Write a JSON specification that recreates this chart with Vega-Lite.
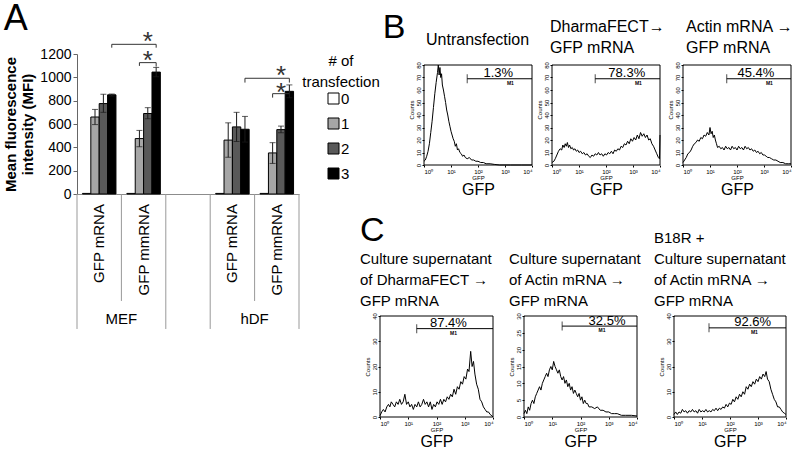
{
  "$schema": "https://vega.github.io/schema/vega-lite/v6.json",
  "padding": {"left": 3, "top": 1, "right": 0, "bottom": 0},
  "config": {
    "view": {"stroke": null},
    "font": "Liberation Sans",
    "axis": {"labelFont": "Liberation Sans", "titleFont": "Liberation Sans", "grid": false, "labelColor": "black", "titleColor": "black", "tickColor": "black", "domainColor": "black", "titleFontWeight": "normal", "labelOverlap": false},
    "title": {"font": "Liberation Sans", "fontWeight": "normal", "color": "black", "subtitleFont": "Liberation Sans", "subtitleColor": "black"},
    "legend": {"labelFont": "Liberation Sans", "titleFont": "Liberation Sans"},
    "text": {"font": "Liberation Sans", "color": "black"}
  },
  "datasets": {
    "mfi": [
      {"cond": "MEF GFP mRNA", "n": "0", "mfi": 5, "lo": null, "hi": null},
      {"cond": "MEF GFP mRNA", "n": "1", "mfi": 660, "lo": 595, "hi": 725},
      {"cond": "MEF GFP mRNA", "n": "2", "mfi": 775, "lo": 700, "hi": 855},
      {"cond": "MEF GFP mRNA", "n": "3", "mfi": 850, "lo": 840, "hi": 857},
      {"cond": "MEF GFP mmRNA", "n": "0", "mfi": 5, "lo": null, "hi": null},
      {"cond": "MEF GFP mmRNA", "n": "1", "mfi": 475, "lo": 405, "hi": 545},
      {"cond": "MEF GFP mmRNA", "n": "2", "mfi": 690, "lo": 645, "hi": 740},
      {"cond": "MEF GFP mmRNA", "n": "3", "mfi": 1045, "lo": 1005, "hi": 1085},
      {"cond": "hDF GFP mRNA", "n": "0", "mfi": 5, "lo": null, "hi": null},
      {"cond": "hDF GFP mRNA", "n": "1", "mfi": 462, "lo": 315, "hi": 610},
      {"cond": "hDF GFP mRNA", "n": "2", "mfi": 575, "lo": 450, "hi": 700},
      {"cond": "hDF GFP mRNA", "n": "3", "mfi": 555, "lo": 445, "hi": 665},
      {"cond": "hDF GFP mmRNA", "n": "0", "mfi": 5, "lo": null, "hi": null},
      {"cond": "hDF GFP mmRNA", "n": "1", "mfi": 352, "lo": 262, "hi": 440},
      {"cond": "hDF GFP mmRNA", "n": "2", "mfi": 552, "lo": 525, "hi": 582},
      {"cond": "hDF GFP mmRNA", "n": "3", "mfi": 880, "lo": 825, "hi": 935}
    ],
    "brackets": [
      {"br": "mef_outer", "step": 1, "cond": "MEF GFP mRNA", "n": "3", "v": 1254},
      {"br": "mef_outer", "step": 2, "cond": "MEF GFP mRNA", "n": "3", "v": 1283},
      {"br": "mef_outer", "step": 3, "cond": "MEF GFP mmRNA", "n": "3", "v": 1283},
      {"br": "mef_outer", "step": 4, "cond": "MEF GFP mmRNA", "n": "3", "v": 1254},
      {"br": "mef_inner", "step": 1, "cond": "MEF GFP mmRNA", "n": "1", "v": 1098},
      {"br": "mef_inner", "step": 2, "cond": "MEF GFP mmRNA", "n": "1", "v": 1126},
      {"br": "mef_inner", "step": 3, "cond": "MEF GFP mmRNA", "n": "3", "v": 1126},
      {"br": "mef_inner", "step": 4, "cond": "MEF GFP mmRNA", "n": "3", "v": 1092},
      {"br": "hdf_outer", "step": 1, "cond": "hDF GFP mRNA", "n": "3", "v": 955},
      {"br": "hdf_outer", "step": 2, "cond": "hDF GFP mRNA", "n": "3", "v": 992},
      {"br": "hdf_outer", "step": 3, "cond": "hDF GFP mmRNA", "n": "3", "v": 992},
      {"br": "hdf_outer", "step": 4, "cond": "hDF GFP mmRNA", "n": "3", "v": 955},
      {"br": "hdf_inner", "step": 1, "cond": "hDF GFP mmRNA", "n": "1", "v": 826},
      {"br": "hdf_inner", "step": 2, "cond": "hDF GFP mmRNA", "n": "1", "v": 860},
      {"br": "hdf_inner", "step": 3, "cond": "hDF GFP mmRNA", "n": "3", "v": 860}
    ],
    "stars": [
      {"cond": "MEF GFP mmRNA", "n": "2", "v": 1362},
      {"cond": "MEF GFP mmRNA", "n": "2", "v": 1197},
      {"cond": "hDF GFP mmRNA", "n": "2", "v": 1069},
      {"cond": "hDF GFP mmRNA", "n": "2", "v": 926}
    ],
    "legend": [{"n": "0"}, {"n": "1"}, {"n": "2"}, {"n": "3"}],
    "seps": [
      {"cond": "MEF GFP mRNA", "kind": "outer"},
      {"cond": "MEF GFP mmRNA", "kind": "inner"},
      {"cond": "gap", "kind": "outer"},
      {"cond": "hDF GFP mRNA", "kind": "outer"},
      {"cond": "hDF GFP mmRNA", "kind": "inner"}
    ],
    "xlabels": [
      {"cond": "MEF GFP mRNA", "label": "GFP mRNA"},
      {"cond": "MEF GFP mmRNA", "label": "GFP mmRNA"},
      {"cond": "hDF GFP mRNA", "label": "GFP mRNA"},
      {"cond": "hDF GFP mmRNA", "label": "GFP mmRNA"}
    ],
    "groups": [
      {"cond": "MEF GFP mmRNA", "group": "MEF"},
      {"cond": "hDF GFP mmRNA", "group": "hDF"}
    ],
    "gates": [
      {"panel": "b1", "start": 1.6, "level": 69, "pct": "1.3%", "px": 2.75, "mx": 3.2},
      {"panel": "b2", "start": 1.6, "level": 69, "pct": "78.3%", "px": 2.77, "mx": 3.2},
      {"panel": "b3", "start": 1.62, "level": 69, "pct": "45.4%", "px": 2.7, "mx": 3.2},
      {"panel": "c1", "start": 1.3, "level": 35, "pct": "87.4%", "px": 2.42, "mx": 2.6},
      {"panel": "c2", "start": 1.35, "level": 27, "pct": "32.5%", "px": 2.94, "mx": 2.76},
      {"panel": "c3", "start": 1.25, "level": 35.3, "pct": "92.6%", "px": 2.81, "mx": 2.87}
    ],
    "b1": [
      {"g": 0.00, "c": 3}, {"g": 0.05, "c": 4}, {"g": 0.10, "c": 7}, {"g": 0.15, "c": 11}, {"g": 0.20, "c": 17},
      {"g": 0.25, "c": 26}, {"g": 0.30, "c": 35}, {"g": 0.35, "c": 46}, {"g": 0.40, "c": 57}, {"g": 0.45, "c": 66},
      {"g": 0.50, "c": 74}, {"g": 0.53, "c": 80}, {"g": 0.56, "c": 72}, {"g": 0.59, "c": 78}, {"g": 0.62, "c": 70},
      {"g": 0.65, "c": 73}, {"g": 0.68, "c": 64}, {"g": 0.72, "c": 60}, {"g": 0.76, "c": 55}, {"g": 0.80, "c": 50},
      {"g": 0.84, "c": 44}, {"g": 0.88, "c": 40}, {"g": 0.92, "c": 35}, {"g": 0.96, "c": 31}, {"g": 1.00, "c": 27},
      {"g": 1.04, "c": 24}, {"g": 1.08, "c": 21}, {"g": 1.12, "c": 19}, {"g": 1.16, "c": 15}, {"g": 1.20, "c": 17},
      {"g": 1.24, "c": 12}, {"g": 1.28, "c": 13}, {"g": 1.33, "c": 10}, {"g": 1.38, "c": 9}, {"g": 1.43, "c": 7},
      {"g": 1.48, "c": 8}, {"g": 1.53, "c": 6}, {"g": 1.60, "c": 5}, {"g": 1.68, "c": 6}, {"g": 1.76, "c": 4},
      {"g": 1.84, "c": 4}, {"g": 1.92, "c": 3}, {"g": 2.00, "c": 3}, {"g": 2.10, "c": 2}, {"g": 2.20, "c": 2},
      {"g": 2.30, "c": 1}, {"g": 2.45, "c": 1}, {"g": 2.60, "c": 0.5}, {"g": 2.80, "c": 0}, {"g": 3.20, "c": 0},
      {"g": 3.60, "c": 0}, {"g": 4.00, "c": 0}
    ],
    "b2": [
      {"g": 0.00, "c": 2}, {"g": 0.07, "c": 3}, {"g": 0.12, "c": 5}, {"g": 0.18, "c": 8}, {"g": 0.24, "c": 11},
      {"g": 0.30, "c": 13}, {"g": 0.36, "c": 12}, {"g": 0.40, "c": 16}, {"g": 0.45, "c": 14}, {"g": 0.49, "c": 17},
      {"g": 0.53, "c": 15}, {"g": 0.57, "c": 18}, {"g": 0.61, "c": 14}, {"g": 0.65, "c": 16}, {"g": 0.70, "c": 13},
      {"g": 0.75, "c": 14}, {"g": 0.80, "c": 12}, {"g": 0.85, "c": 13}, {"g": 0.90, "c": 11}, {"g": 0.95, "c": 12},
      {"g": 1.00, "c": 10}, {"g": 1.06, "c": 11}, {"g": 1.12, "c": 9}, {"g": 1.18, "c": 10}, {"g": 1.24, "c": 8},
      {"g": 1.30, "c": 9}, {"g": 1.36, "c": 7}, {"g": 1.42, "c": 6}, {"g": 1.48, "c": 8}, {"g": 1.54, "c": 7},
      {"g": 1.60, "c": 9}, {"g": 1.66, "c": 8}, {"g": 1.72, "c": 10}, {"g": 1.78, "c": 8}, {"g": 1.84, "c": 9},
      {"g": 1.90, "c": 7}, {"g": 1.96, "c": 9}, {"g": 2.02, "c": 8}, {"g": 2.08, "c": 10}, {"g": 2.14, "c": 9},
      {"g": 2.20, "c": 11}, {"g": 2.26, "c": 9}, {"g": 2.32, "c": 12}, {"g": 2.38, "c": 11}, {"g": 2.44, "c": 13},
      {"g": 2.50, "c": 12}, {"g": 2.56, "c": 15}, {"g": 2.62, "c": 14}, {"g": 2.68, "c": 17}, {"g": 2.74, "c": 16},
      {"g": 2.80, "c": 19}, {"g": 2.86, "c": 17}, {"g": 2.92, "c": 21}, {"g": 2.98, "c": 19}, {"g": 3.04, "c": 22},
      {"g": 3.10, "c": 20}, {"g": 3.16, "c": 24}, {"g": 3.22, "c": 21}, {"g": 3.28, "c": 26}, {"g": 3.34, "c": 23},
      {"g": 3.40, "c": 25}, {"g": 3.46, "c": 22}, {"g": 3.52, "c": 24}, {"g": 3.58, "c": 20}, {"g": 3.64, "c": 21},
      {"g": 3.70, "c": 17}, {"g": 3.76, "c": 15}, {"g": 3.82, "c": 12}, {"g": 3.88, "c": 9}, {"g": 3.94, "c": 6},
      {"g": 3.98, "c": 5}, {"g": 4.00, "c": 24}
    ],
    "b3": [
      {"g": 0.00, "c": 2}, {"g": 0.06, "c": 4}, {"g": 0.12, "c": 6}, {"g": 0.18, "c": 9}, {"g": 0.24, "c": 10},
      {"g": 0.30, "c": 12}, {"g": 0.36, "c": 15}, {"g": 0.42, "c": 17}, {"g": 0.48, "c": 18}, {"g": 0.54, "c": 20},
      {"g": 0.60, "c": 19}, {"g": 0.66, "c": 22}, {"g": 0.72, "c": 21}, {"g": 0.78, "c": 24}, {"g": 0.84, "c": 23},
      {"g": 0.90, "c": 26}, {"g": 0.96, "c": 24}, {"g": 1.00, "c": 30}, {"g": 1.04, "c": 25}, {"g": 1.08, "c": 27},
      {"g": 1.12, "c": 22}, {"g": 1.16, "c": 24}, {"g": 1.20, "c": 20}, {"g": 1.24, "c": 17}, {"g": 1.28, "c": 14},
      {"g": 1.34, "c": 15}, {"g": 1.40, "c": 13}, {"g": 1.46, "c": 14}, {"g": 1.52, "c": 12}, {"g": 1.58, "c": 15},
      {"g": 1.64, "c": 13}, {"g": 1.70, "c": 14}, {"g": 1.76, "c": 12}, {"g": 1.82, "c": 15}, {"g": 1.88, "c": 13},
      {"g": 1.94, "c": 14}, {"g": 2.00, "c": 12}, {"g": 2.06, "c": 15}, {"g": 2.12, "c": 13}, {"g": 2.18, "c": 14},
      {"g": 2.24, "c": 12}, {"g": 2.30, "c": 15}, {"g": 2.36, "c": 13}, {"g": 2.42, "c": 14}, {"g": 2.48, "c": 12},
      {"g": 2.54, "c": 13}, {"g": 2.60, "c": 11}, {"g": 2.66, "c": 12}, {"g": 2.72, "c": 10}, {"g": 2.78, "c": 11},
      {"g": 2.84, "c": 9}, {"g": 2.90, "c": 10}, {"g": 2.96, "c": 8}, {"g": 3.02, "c": 8}, {"g": 3.08, "c": 7},
      {"g": 3.14, "c": 6}, {"g": 3.20, "c": 6}, {"g": 3.28, "c": 5}, {"g": 3.36, "c": 4}, {"g": 3.44, "c": 4},
      {"g": 3.52, "c": 3}, {"g": 3.60, "c": 2}, {"g": 3.70, "c": 2}, {"g": 3.80, "c": 1}, {"g": 3.90, "c": 1},
      {"g": 4.00, "c": 1}
    ],
    "c1": [
      {"g": 0.00, "c": 0.5}, {"g": 0.06, "c": 2}, {"g": 0.12, "c": 3}, {"g": 0.18, "c": 2}, {"g": 0.24, "c": 4},
      {"g": 0.30, "c": 5}, {"g": 0.35, "c": 4}, {"g": 0.40, "c": 6}, {"g": 0.46, "c": 5}, {"g": 0.52, "c": 4},
      {"g": 0.58, "c": 6}, {"g": 0.64, "c": 5}, {"g": 0.70, "c": 7}, {"g": 0.76, "c": 5}, {"g": 0.82, "c": 6},
      {"g": 0.88, "c": 9}, {"g": 0.94, "c": 5}, {"g": 1.00, "c": 6}, {"g": 1.06, "c": 4}, {"g": 1.12, "c": 5},
      {"g": 1.18, "c": 3}, {"g": 1.24, "c": 5}, {"g": 1.30, "c": 4}, {"g": 1.36, "c": 6}, {"g": 1.42, "c": 4},
      {"g": 1.48, "c": 5}, {"g": 1.54, "c": 7}, {"g": 1.60, "c": 5}, {"g": 1.66, "c": 6}, {"g": 1.72, "c": 4},
      {"g": 1.78, "c": 6}, {"g": 1.84, "c": 3}, {"g": 1.90, "c": 5}, {"g": 1.96, "c": 4}, {"g": 2.02, "c": 6},
      {"g": 2.08, "c": 5}, {"g": 2.14, "c": 7}, {"g": 2.20, "c": 5}, {"g": 2.26, "c": 7}, {"g": 2.32, "c": 6},
      {"g": 2.38, "c": 8}, {"g": 2.44, "c": 7}, {"g": 2.50, "c": 9}, {"g": 2.56, "c": 8}, {"g": 2.62, "c": 11},
      {"g": 2.68, "c": 9}, {"g": 2.74, "c": 12}, {"g": 2.80, "c": 11}, {"g": 2.86, "c": 14}, {"g": 2.92, "c": 13},
      {"g": 2.98, "c": 16}, {"g": 3.04, "c": 15}, {"g": 3.10, "c": 19}, {"g": 3.15, "c": 18}, {"g": 3.21, "c": 26},
      {"g": 3.26, "c": 20}, {"g": 3.31, "c": 22}, {"g": 3.36, "c": 17}, {"g": 3.42, "c": 13}, {"g": 3.48, "c": 11},
      {"g": 3.54, "c": 7}, {"g": 3.60, "c": 6}, {"g": 3.66, "c": 4}, {"g": 3.72, "c": 3}, {"g": 3.78, "c": 2},
      {"g": 3.84, "c": 2}, {"g": 3.90, "c": 1}, {"g": 3.96, "c": 0.5}, {"g": 4.00, "c": 0}
    ],
    "c2": [
      {"g": 0.00, "c": 1}, {"g": 0.05, "c": 2}, {"g": 0.10, "c": 1}, {"g": 0.15, "c": 3}, {"g": 0.20, "c": 2},
      {"g": 0.25, "c": 4}, {"g": 0.30, "c": 5}, {"g": 0.35, "c": 4}, {"g": 0.40, "c": 6}, {"g": 0.45, "c": 7},
      {"g": 0.50, "c": 8}, {"g": 0.55, "c": 9}, {"g": 0.60, "c": 8}, {"g": 0.65, "c": 10}, {"g": 0.70, "c": 11},
      {"g": 0.75, "c": 12}, {"g": 0.80, "c": 13}, {"g": 0.85, "c": 12}, {"g": 0.90, "c": 14}, {"g": 0.95, "c": 15},
      {"g": 1.00, "c": 14}, {"g": 1.05, "c": 16.5}, {"g": 1.10, "c": 15}, {"g": 1.15, "c": 14}, {"g": 1.20, "c": 13},
      {"g": 1.25, "c": 14}, {"g": 1.30, "c": 12}, {"g": 1.35, "c": 11}, {"g": 1.40, "c": 12}, {"g": 1.45, "c": 10},
      {"g": 1.50, "c": 11}, {"g": 1.55, "c": 9}, {"g": 1.60, "c": 10}, {"g": 1.65, "c": 8}, {"g": 1.70, "c": 9},
      {"g": 1.75, "c": 7}, {"g": 1.80, "c": 8}, {"g": 1.85, "c": 7}, {"g": 1.90, "c": 6}, {"g": 1.95, "c": 7},
      {"g": 2.00, "c": 5}, {"g": 2.05, "c": 6}, {"g": 2.10, "c": 4}, {"g": 2.15, "c": 5}, {"g": 2.20, "c": 4},
      {"g": 2.25, "c": 4}, {"g": 2.30, "c": 3}, {"g": 2.40, "c": 3}, {"g": 2.50, "c": 2.5}, {"g": 2.60, "c": 3},
      {"g": 2.70, "c": 2}, {"g": 2.80, "c": 2}, {"g": 2.90, "c": 1.5}, {"g": 3.00, "c": 1.5}, {"g": 3.10, "c": 1},
      {"g": 3.20, "c": 1}, {"g": 3.30, "c": 1}, {"g": 3.45, "c": 0.5}, {"g": 3.60, "c": 0.5}, {"g": 3.80, "c": 0.5},
      {"g": 4.00, "c": 0.3}
    ],
    "c3": [
      {"g": 0.00, "c": 1}, {"g": 0.06, "c": 2}, {"g": 0.12, "c": 1}, {"g": 0.18, "c": 2}, {"g": 0.24, "c": 1.5},
      {"g": 0.30, "c": 3}, {"g": 0.36, "c": 2}, {"g": 0.42, "c": 2.5}, {"g": 0.48, "c": 1.5}, {"g": 0.54, "c": 2.5},
      {"g": 0.60, "c": 2}, {"g": 0.66, "c": 3}, {"g": 0.72, "c": 2}, {"g": 0.78, "c": 2.5}, {"g": 0.84, "c": 1.5},
      {"g": 0.90, "c": 3}, {"g": 0.96, "c": 2}, {"g": 1.02, "c": 2.5}, {"g": 1.08, "c": 2}, {"g": 1.14, "c": 3},
      {"g": 1.20, "c": 2}, {"g": 1.26, "c": 2.5}, {"g": 1.32, "c": 2}, {"g": 1.38, "c": 3}, {"g": 1.44, "c": 2.5},
      {"g": 1.50, "c": 3.5}, {"g": 1.56, "c": 2.5}, {"g": 1.62, "c": 3.5}, {"g": 1.68, "c": 3}, {"g": 1.74, "c": 4},
      {"g": 1.80, "c": 3.5}, {"g": 1.86, "c": 5}, {"g": 1.92, "c": 4}, {"g": 1.98, "c": 5.5}, {"g": 2.04, "c": 5},
      {"g": 2.10, "c": 7}, {"g": 2.16, "c": 6}, {"g": 2.22, "c": 8}, {"g": 2.28, "c": 7}, {"g": 2.34, "c": 9},
      {"g": 2.40, "c": 8}, {"g": 2.46, "c": 10}, {"g": 2.52, "c": 9}, {"g": 2.58, "c": 12}, {"g": 2.64, "c": 11},
      {"g": 2.70, "c": 13}, {"g": 2.76, "c": 12}, {"g": 2.82, "c": 14}, {"g": 2.88, "c": 13}, {"g": 2.94, "c": 15},
      {"g": 3.00, "c": 14}, {"g": 3.06, "c": 16}, {"g": 3.12, "c": 15}, {"g": 3.18, "c": 17}, {"g": 3.24, "c": 16},
      {"g": 3.29, "c": 18}, {"g": 3.34, "c": 15}, {"g": 3.40, "c": 14}, {"g": 3.46, "c": 11}, {"g": 3.52, "c": 9},
      {"g": 3.58, "c": 7}, {"g": 3.64, "c": 6}, {"g": 3.70, "c": 4}, {"g": 3.76, "c": 4}, {"g": 3.82, "c": 3},
      {"g": 3.88, "c": 2}, {"g": 3.94, "c": 1.5}, {"g": 4.00, "c": 1}
    ]
  },
  "resolve": {"scale": {"fill": "independent", "x": "independent", "y": "independent"}, "legend": {"fill": "independent"}},
  "spacing": 2,
  "hconcat": [
    {
      "width": 222,
      "height": 140,
      "title": {"text": "A", "fontSize": 36, "anchor": "start", "frame": "bounds", "offset": -9},
      "layer": [
        {
          "data": {"name": "mfi"},
          "mark": {"type": "bar", "stroke": "black", "strokeWidth": 1},
          "encoding": {
            "x": {"field": "cond", "type": "nominal", "scale": {"domain": ["MEF GFP mRNA", "MEF GFP mmRNA", "gap", "hDF GFP mRNA", "hDF GFP mmRNA"], "paddingInner": 0, "paddingOuter": 0}, "axis": {"labels": false, "ticks": false, "title": null, "domainColor": "#8c8c8c"}},
            "xOffset": {"field": "n", "type": "nominal", "scale": {"domain": ["0", "1", "2", "3"], "paddingInner": 0, "paddingOuter": 0.65}},
            "y": {"field": "mfi", "type": "quantitative", "scale": {"domain": [0, 1200], "nice": false}, "axis": {"values": [0, 200, 400, 600, 800, 1000, 1200], "tickCount": 20, "format": "d", "labelOverlap": false, "title": ["Mean fluorescence", "intensity (MFI)"], "titleFontSize": 15, "titleFontWeight": "bold", "titleLineHeight": 17, "titlePadding": 4, "labelFontSize": 14, "labelPadding": 2, "tickSize": 4, "domainColor": "#666666", "tickColor": "#666666"}},
            "fill": {"field": "n", "type": "nominal", "scale": {"domain": ["0", "1", "2", "3"], "range": ["#ffffff", "#a6a6a6", "#595959", "#000000"]}, "legend": null}
          }
        },
        {
          "data": {"name": "mfi"},
          "mark": {"type": "rule", "color": "#1a1a1a", "strokeWidth": 1},
          "encoding": {
            "x": {"field": "cond", "type": "nominal"},
            "xOffset": {"field": "n", "type": "nominal"},
            "y": {"field": "lo", "type": "quantitative"},
            "y2": {"field": "hi"}
          }
        },
        {
          "data": {"name": "mfi"},
          "mark": {"type": "tick", "orient": "horizontal", "size": 6, "thickness": 1, "color": "#1a1a1a"},
          "encoding": {
            "x": {"field": "cond", "type": "nominal"},
            "xOffset": {"field": "n", "type": "nominal"},
            "y": {"field": "hi", "type": "quantitative"}
          }
        },
        {
          "data": {"name": "mfi"},
          "mark": {"type": "tick", "orient": "horizontal", "size": 6, "thickness": 1, "color": "#1a1a1a"},
          "encoding": {
            "x": {"field": "cond", "type": "nominal"},
            "xOffset": {"field": "n", "type": "nominal"},
            "y": {"field": "lo", "type": "quantitative"}
          }
        },
        {
          "data": {"name": "brackets"},
          "mark": {"type": "line", "color": "#333333", "strokeWidth": 1},
          "encoding": {
            "x": {"field": "cond", "type": "nominal"},
            "xOffset": {"field": "n", "type": "nominal"},
            "y": {"field": "v", "type": "quantitative"},
            "detail": {"field": "br"},
            "order": {"field": "step", "type": "quantitative"}
          }
        },
        {
          "data": {"name": "stars"},
          "mark": {"type": "text", "fontSize": 26, "baseline": "middle", "dy": 7, "color": "#333333"},
          "encoding": {
            "x": {"field": "cond", "type": "nominal"},
            "xOffset": {"field": "n", "type": "nominal"},
            "y": {"field": "v", "type": "quantitative"},
            "text": {"value": "*"}
          }
        },
        {
          "data": {"name": "seps"},
          "transform": [{"filter": "datum.kind == 'outer'"}],
          "mark": {"type": "rule", "color": "#999999", "strokeWidth": 1},
          "encoding": {
            "x": {"field": "cond", "type": "nominal", "bandPosition": 0},
            "y": {"datum": 0, "type": "quantitative"},
            "y2": {"datum": -1157}
          }
        },
        {
          "data": {"name": "seps"},
          "transform": [{"filter": "datum.kind == 'inner'"}],
          "mark": {"type": "rule", "color": "#999999", "strokeWidth": 1},
          "encoding": {
            "x": {"field": "cond", "type": "nominal", "bandPosition": 0},
            "y": {"datum": 0, "type": "quantitative"},
            "y2": {"datum": -917}
          }
        },
        {
          "data": {"name": "seps"},
          "transform": [{"filter": "datum.cond == 'hDF GFP mmRNA'"}],
          "mark": {"type": "rule", "color": "#999999", "strokeWidth": 1},
          "encoding": {
            "x": {"field": "cond", "type": "nominal", "bandPosition": 1},
            "y": {"datum": 0, "type": "quantitative"},
            "y2": {"datum": -1157}
          }
        },
        {
          "data": {"name": "xlabels"},
          "mark": {"type": "text", "angle": 270, "align": "right", "baseline": "middle", "fontSize": 15},
          "encoding": {
            "x": {"field": "cond", "type": "nominal"},
            "y": {"datum": -86, "type": "quantitative"},
            "text": {"field": "label"}
          }
        },
        {
          "data": {"name": "groups"},
          "mark": {"type": "text", "align": "center", "baseline": "middle", "fontSize": 15},
          "encoding": {
            "x": {"field": "cond", "type": "nominal", "bandPosition": 0},
            "y": {"datum": -1071, "type": "quantitative"},
            "text": {"field": "group"}
          }
        }
      ]
    },
    {
      "spacing": 16,
      "resolve": {"scale": {"x": "independent", "y": "independent", "fill": "independent"}, "legend": {"fill": "independent"}},
      "vconcat": [
        {
          "spacing": 2,
          "resolve": {"scale": {"x": "independent", "y": "independent", "fill": "independent"}, "legend": {"fill": "independent"}},
          "hconcat": [
            {
              "width": 14,
              "height": 20,
              "title": {"text": "B", "fontSize": 34, "anchor": "middle", "dx": 7, "offset": 9},
              "data": {"name": "legend"},
              "mark": {"type": "square", "opacity": 0},
              "encoding": {
                "fill": {"field": "n", "type": "nominal", "scale": {"domain": ["0", "1", "2", "3"], "range": ["#ffffff", "#a6a6a6", "#595959", "#000000"]},
                  "legend": {"orient": "left", "title": ["# of", "transfection"], "titleFontSize": 15, "titleFontWeight": "normal", "titleAlign": "center", "titleAnchor": "middle", "titleLineHeight": 21, "titlePadding": 1, "titleColor": "black", "labelFontSize": 15, "labelColor": "black", "symbolType": "square", "symbolSize": 121, "symbolStrokeColor": "black", "symbolStrokeWidth": 1, "symbolOpacity": 1, "symbolOffset": -7, "rowPadding": 9, "offset": 0, "padding": 0, "labelOffset": 0}}
              }
            },
            {
              "width": 108,
              "height": 111,
              "title": {"text": "Untransfection", "fontSize": 16, "anchor": "start", "frame": "group", "dx": 2, "offset": 6},
              "layer": [
                {
                  "data": {"name": "b1"},
                  "mark": {"type": "line", "color": "black", "strokeWidth": 1},
                  "encoding": {
                    "x": {"field": "g", "type": "quantitative", "scale": {"domain": [0, 4], "nice": false}, "axis": {"values": [0, 1, 2, 3, 4], "tickCount": 20, "labelExpr": "['10⁰','10¹',['10²','GFP'],'10³','10⁴'][datum.value]", "labelFontSize": 6, "labelLineHeight": 6, "labelPadding": 1, "tickSize": 2, "domain": false, "title": "GFP", "titleFontSize": 16, "titlePadding": 1}},
                    "y": {"field": "c", "type": "quantitative", "scale": {"domain": [0, 88.8], "nice": false}, "axis": {"values": [0, 10, 20, 30, 40, 50, 60, 70, 80], "tickCount": 20, "labelAngle": 270, "labelFontSize": 6, "labelPadding": 1, "tickSize": 2, "domain": false, "title": "Counts", "titleFontSize": 6, "titlePadding": 1}}
                  }
                },
                {"data": {"name": "gates"}, "transform": [{"filter": "datum.panel == 'b1'"}], "mark": {"type": "rect", "fillOpacity": 0, "stroke": "black", "strokeWidth": 1}, "encoding": {"x": {"datum": 0}, "x2": {"datum": 4}, "y": {"datum": 0}, "y2": {"datum": 80}}},
                {"data": {"name": "gates"}, "transform": [{"filter": "datum.panel == 'b1'"}], "mark": {"type": "rule", "color": "black"}, "encoding": {"x": {"field": "start", "type": "quantitative"}, "x2": {"datum": 4}, "y": {"field": "level", "type": "quantitative"}}},
                {"data": {"name": "gates"}, "transform": [{"filter": "datum.panel == 'b1'"}], "mark": {"type": "tick", "orient": "vertical", "size": 9, "thickness": 1, "color": "black"}, "encoding": {"x": {"field": "start", "type": "quantitative"}, "y": {"field": "level", "type": "quantitative"}}},
                {"data": {"name": "gates"}, "transform": [{"filter": "datum.panel == 'b1'"}], "mark": {"type": "text", "fontSize": 13, "baseline": "alphabetic", "dy": -1.5}, "encoding": {"x": {"field": "px", "type": "quantitative"}, "y": {"field": "level", "type": "quantitative"}, "text": {"field": "pct"}}},
                {"data": {"name": "gates"}, "transform": [{"filter": "datum.panel == 'b1'"}], "mark": {"type": "text", "fontSize": 5, "fontWeight": "bold", "baseline": "top", "dy": 2}, "encoding": {"x": {"field": "mx", "type": "quantitative"}, "y": {"field": "level", "type": "quantitative"}, "text": {"value": "M1"}}}
              ]
            },
            {
              "width": 108,
              "height": 111,
              "title": {"text": ["DharmaFECT→", "GFP mRNA"], "fontSize": 16, "lineHeight": 21, "anchor": "start", "frame": "group", "dx": -2, "offset": -2},
              "layer": [
                {
                  "data": {"name": "b2"},
                  "mark": {"type": "line", "color": "black", "strokeWidth": 1},
                  "encoding": {
                    "x": {"field": "g", "type": "quantitative", "scale": {"domain": [0, 4], "nice": false}, "axis": {"values": [0, 1, 2, 3, 4], "tickCount": 20, "labelExpr": "['10⁰','10¹',['10²','GFP'],'10³','10⁴'][datum.value]", "labelFontSize": 6, "labelLineHeight": 6, "labelPadding": 1, "tickSize": 2, "domain": false, "title": "GFP", "titleFontSize": 16, "titlePadding": 1}},
                    "y": {"field": "c", "type": "quantitative", "scale": {"domain": [0, 88.8], "nice": false}, "axis": {"values": [0, 10, 20, 30, 40, 50, 60, 70, 80], "tickCount": 20, "labelAngle": 270, "labelFontSize": 6, "labelPadding": 1, "tickSize": 2, "domain": false, "title": "Counts", "titleFontSize": 6, "titlePadding": 1}}
                  }
                },
                {"data": {"name": "gates"}, "transform": [{"filter": "datum.panel == 'b2'"}], "mark": {"type": "rect", "fillOpacity": 0, "stroke": "black", "strokeWidth": 1}, "encoding": {"x": {"datum": 0}, "x2": {"datum": 4}, "y": {"datum": 0}, "y2": {"datum": 80}}},
                {"data": {"name": "gates"}, "transform": [{"filter": "datum.panel == 'b2'"}], "mark": {"type": "rule", "color": "black"}, "encoding": {"x": {"field": "start", "type": "quantitative"}, "x2": {"datum": 4}, "y": {"field": "level", "type": "quantitative"}}},
                {"data": {"name": "gates"}, "transform": [{"filter": "datum.panel == 'b2'"}], "mark": {"type": "tick", "orient": "vertical", "size": 9, "thickness": 1, "color": "black"}, "encoding": {"x": {"field": "start", "type": "quantitative"}, "y": {"field": "level", "type": "quantitative"}}},
                {"data": {"name": "gates"}, "transform": [{"filter": "datum.panel == 'b2'"}], "mark": {"type": "text", "fontSize": 13, "baseline": "alphabetic", "dy": -1.5}, "encoding": {"x": {"field": "px", "type": "quantitative"}, "y": {"field": "level", "type": "quantitative"}, "text": {"field": "pct"}}},
                {"data": {"name": "gates"}, "transform": [{"filter": "datum.panel == 'b2'"}], "mark": {"type": "text", "fontSize": 5, "fontWeight": "bold", "baseline": "top", "dy": 2}, "encoding": {"x": {"field": "mx", "type": "quantitative"}, "y": {"field": "level", "type": "quantitative"}, "text": {"value": "M1"}}}
              ]
            },
            {
              "width": 108,
              "height": 111,
              "title": {"text": ["Actin mRNA →", "GFP mRNA"], "fontSize": 16, "lineHeight": 21, "anchor": "start", "frame": "group", "dx": 3, "offset": -2},
              "layer": [
                {
                  "data": {"name": "b3"},
                  "mark": {"type": "line", "color": "black", "strokeWidth": 1},
                  "encoding": {
                    "x": {"field": "g", "type": "quantitative", "scale": {"domain": [0, 4], "nice": false}, "axis": {"values": [0, 1, 2, 3, 4], "tickCount": 20, "labelExpr": "['10⁰','10¹',['10²','GFP'],'10³','10⁴'][datum.value]", "labelFontSize": 6, "labelLineHeight": 6, "labelPadding": 1, "tickSize": 2, "domain": false, "title": "GFP", "titleFontSize": 16, "titlePadding": 1}},
                    "y": {"field": "c", "type": "quantitative", "scale": {"domain": [0, 88.8], "nice": false}, "axis": {"values": [0, 10, 20, 30, 40, 50, 60, 70, 80], "tickCount": 20, "labelAngle": 270, "labelFontSize": 6, "labelPadding": 1, "tickSize": 2, "domain": false, "title": "Counts", "titleFontSize": 6, "titlePadding": 1}}
                  }
                },
                {"data": {"name": "gates"}, "transform": [{"filter": "datum.panel == 'b3'"}], "mark": {"type": "rect", "fillOpacity": 0, "stroke": "black", "strokeWidth": 1}, "encoding": {"x": {"datum": 0}, "x2": {"datum": 4}, "y": {"datum": 0}, "y2": {"datum": 80}}},
                {"data": {"name": "gates"}, "transform": [{"filter": "datum.panel == 'b3'"}], "mark": {"type": "rule", "color": "black"}, "encoding": {"x": {"field": "start", "type": "quantitative"}, "x2": {"datum": 4}, "y": {"field": "level", "type": "quantitative"}}},
                {"data": {"name": "gates"}, "transform": [{"filter": "datum.panel == 'b3'"}], "mark": {"type": "tick", "orient": "vertical", "size": 9, "thickness": 1, "color": "black"}, "encoding": {"x": {"field": "start", "type": "quantitative"}, "y": {"field": "level", "type": "quantitative"}}},
                {"data": {"name": "gates"}, "transform": [{"filter": "datum.panel == 'b3'"}], "mark": {"type": "text", "fontSize": 13, "baseline": "alphabetic", "dy": -1.5}, "encoding": {"x": {"field": "px", "type": "quantitative"}, "y": {"field": "level", "type": "quantitative"}, "text": {"field": "pct"}}},
                {"data": {"name": "gates"}, "transform": [{"filter": "datum.panel == 'b3'"}], "mark": {"type": "text", "fontSize": 5, "fontWeight": "bold", "baseline": "top", "dy": 2}, "encoding": {"x": {"field": "mx", "type": "quantitative"}, "y": {"field": "level", "type": "quantitative"}, "text": {"value": "M1"}}}
              ]
            }
          ]
        },
        {
          "spacing": 13,
          "resolve": {"scale": {"x": "independent", "y": "independent"}},
          "hconcat": [
            {
              "width": 113,
              "height": 101,
              "title": {"text": "C", "subtitle": ["Culture supernatant", "of DharmaFECT →", "GFP mRNA"], "fontSize": 34, "subtitleFontSize": 15, "subtitleLineHeight": 21, "subtitlePadding": 4, "anchor": "start", "frame": "group", "dx": -20, "offset": 4},
              "layer": [
                {
                  "data": {"name": "c1"},
                  "mark": {"type": "line", "color": "black", "strokeWidth": 1},
                  "encoding": {
                    "x": {"field": "g", "type": "quantitative", "scale": {"domain": [0, 4], "nice": false}, "axis": {"values": [0, 1, 2, 3, 4], "tickCount": 20, "labelExpr": "['10⁰','10¹',['10²','GFP'],'10³','10⁴'][datum.value]", "labelFontSize": 6, "labelLineHeight": 6, "labelPadding": 1, "tickSize": 2, "domain": false, "title": "GFP", "titleFontSize": 16, "titlePadding": 1}},
                    "y": {"field": "c", "type": "quantitative", "scale": {"domain": [0, 40], "nice": false}, "axis": {"values": [0, 10, 20, 30, 40], "tickCount": 20, "labelAngle": 270, "labelFontSize": 6, "labelPadding": 1, "tickSize": 2, "domain": false, "title": "Counts", "titleFontSize": 6, "titlePadding": 1}}
                  }
                },
                {"data": {"name": "gates"}, "transform": [{"filter": "datum.panel == 'c1'"}], "mark": {"type": "rect", "fillOpacity": 0, "stroke": "black", "strokeWidth": 1}, "encoding": {"x": {"datum": 0}, "x2": {"datum": 4}, "y": {"datum": 0}, "y2": {"datum": 40}}},
                {"data": {"name": "gates"}, "transform": [{"filter": "datum.panel == 'c1'"}], "mark": {"type": "rule", "color": "black"}, "encoding": {"x": {"field": "start", "type": "quantitative"}, "x2": {"datum": 4}, "y": {"field": "level", "type": "quantitative"}}},
                {"data": {"name": "gates"}, "transform": [{"filter": "datum.panel == 'c1'"}], "mark": {"type": "tick", "orient": "vertical", "size": 9, "thickness": 1, "color": "black"}, "encoding": {"x": {"field": "start", "type": "quantitative"}, "y": {"field": "level", "type": "quantitative"}}},
                {"data": {"name": "gates"}, "transform": [{"filter": "datum.panel == 'c1'"}], "mark": {"type": "text", "fontSize": 13, "baseline": "alphabetic", "dy": -1.5}, "encoding": {"x": {"field": "px", "type": "quantitative"}, "y": {"field": "level", "type": "quantitative"}, "text": {"field": "pct"}}},
                {"data": {"name": "gates"}, "transform": [{"filter": "datum.panel == 'c1'"}], "mark": {"type": "text", "fontSize": 5, "fontWeight": "bold", "baseline": "top", "dy": 2}, "encoding": {"x": {"field": "mx", "type": "quantitative"}, "y": {"field": "level", "type": "quantitative"}, "text": {"value": "M1"}}}
              ]
            },
            {
              "width": 113,
              "height": 101,
              "title": {"text": ["Culture supernatant", "of Actin mRNA  →", "GFP mRNA"], "fontSize": 15, "lineHeight": 21, "anchor": "start", "frame": "group", "dx": -15, "offset": 4},
              "layer": [
                {
                  "data": {"name": "c2"},
                  "mark": {"type": "line", "color": "black", "strokeWidth": 1},
                  "encoding": {
                    "x": {"field": "g", "type": "quantitative", "scale": {"domain": [0, 4], "nice": false}, "axis": {"values": [0, 1, 2, 3, 4], "tickCount": 20, "labelExpr": "['10⁰','10¹',['10²','GFP'],'10³','10⁴'][datum.value]", "labelFontSize": 6, "labelLineHeight": 6, "labelPadding": 1, "tickSize": 2, "domain": false, "title": "GFP", "titleFontSize": 16, "titlePadding": 1}},
                    "y": {"field": "c", "type": "quantitative", "scale": {"domain": [0, 30], "nice": false}, "axis": {"values": [0, 5, 10, 15, 20, 25, 30], "tickCount": 20, "labelAngle": 270, "labelFontSize": 6, "labelPadding": 1, "tickSize": 2, "domain": false, "title": "Counts", "titleFontSize": 6, "titlePadding": 1}}
                  }
                },
                {"data": {"name": "gates"}, "transform": [{"filter": "datum.panel == 'c2'"}], "mark": {"type": "rect", "fillOpacity": 0, "stroke": "black", "strokeWidth": 1}, "encoding": {"x": {"datum": 0}, "x2": {"datum": 4}, "y": {"datum": 0}, "y2": {"datum": 30}}},
                {"data": {"name": "gates"}, "transform": [{"filter": "datum.panel == 'c2'"}], "mark": {"type": "rule", "color": "black"}, "encoding": {"x": {"field": "start", "type": "quantitative"}, "x2": {"datum": 4}, "y": {"field": "level", "type": "quantitative"}}},
                {"data": {"name": "gates"}, "transform": [{"filter": "datum.panel == 'c2'"}], "mark": {"type": "tick", "orient": "vertical", "size": 9, "thickness": 1, "color": "black"}, "encoding": {"x": {"field": "start", "type": "quantitative"}, "y": {"field": "level", "type": "quantitative"}}},
                {"data": {"name": "gates"}, "transform": [{"filter": "datum.panel == 'c2'"}], "mark": {"type": "text", "fontSize": 13, "baseline": "alphabetic", "dy": -1.5}, "encoding": {"x": {"field": "px", "type": "quantitative"}, "y": {"field": "level", "type": "quantitative"}, "text": {"field": "pct"}}},
                {"data": {"name": "gates"}, "transform": [{"filter": "datum.panel == 'c2'"}], "mark": {"type": "text", "fontSize": 5, "fontWeight": "bold", "baseline": "top", "dy": 2}, "encoding": {"x": {"field": "mx", "type": "quantitative"}, "y": {"field": "level", "type": "quantitative"}, "text": {"value": "M1"}}}
              ]
            },
            {
              "width": 112,
              "height": 101,
              "title": {"text": ["B18R +", "Culture supernatant", "of Actin mRNA →", "GFP mRNA"], "fontSize": 15, "lineHeight": 21, "anchor": "start", "frame": "group", "dx": -20, "offset": 4},
              "layer": [
                {
                  "data": {"name": "c3"},
                  "mark": {"type": "line", "color": "black", "strokeWidth": 1},
                  "encoding": {
                    "x": {"field": "g", "type": "quantitative", "scale": {"domain": [0, 4], "nice": false}, "axis": {"values": [0, 1, 2, 3, 4], "tickCount": 20, "labelExpr": "['10⁰','10¹',['10²','GFP'],'10³','10⁴'][datum.value]", "labelFontSize": 6, "labelLineHeight": 6, "labelPadding": 1, "tickSize": 2, "domain": false, "title": "GFP", "titleFontSize": 16, "titlePadding": 1}},
                    "y": {"field": "c", "type": "quantitative", "scale": {"domain": [0, 40], "nice": false}, "axis": {"values": [0, 10, 20, 30, 40], "tickCount": 20, "labelAngle": 270, "labelFontSize": 6, "labelPadding": 1, "tickSize": 2, "domain": false, "title": "Counts", "titleFontSize": 6, "titlePadding": 1}}
                  }
                },
                {"data": {"name": "gates"}, "transform": [{"filter": "datum.panel == 'c3'"}], "mark": {"type": "rect", "fillOpacity": 0, "stroke": "black", "strokeWidth": 1}, "encoding": {"x": {"datum": 0}, "x2": {"datum": 4}, "y": {"datum": 0}, "y2": {"datum": 40}}},
                {"data": {"name": "gates"}, "transform": [{"filter": "datum.panel == 'c3'"}], "mark": {"type": "rule", "color": "black"}, "encoding": {"x": {"field": "start", "type": "quantitative"}, "x2": {"datum": 4}, "y": {"field": "level", "type": "quantitative"}}},
                {"data": {"name": "gates"}, "transform": [{"filter": "datum.panel == 'c3'"}], "mark": {"type": "tick", "orient": "vertical", "size": 9, "thickness": 1, "color": "black"}, "encoding": {"x": {"field": "start", "type": "quantitative"}, "y": {"field": "level", "type": "quantitative"}}},
                {"data": {"name": "gates"}, "transform": [{"filter": "datum.panel == 'c3'"}], "mark": {"type": "text", "fontSize": 13, "baseline": "alphabetic", "dy": -1.5}, "encoding": {"x": {"field": "px", "type": "quantitative"}, "y": {"field": "level", "type": "quantitative"}, "text": {"field": "pct"}}},
                {"data": {"name": "gates"}, "transform": [{"filter": "datum.panel == 'c3'"}], "mark": {"type": "text", "fontSize": 5, "fontWeight": "bold", "baseline": "top", "dy": 2}, "encoding": {"x": {"field": "mx", "type": "quantitative"}, "y": {"field": "level", "type": "quantitative"}, "text": {"value": "M1"}}}
              ]
            }
          ]
        }
      ]
    }
  ]
}
